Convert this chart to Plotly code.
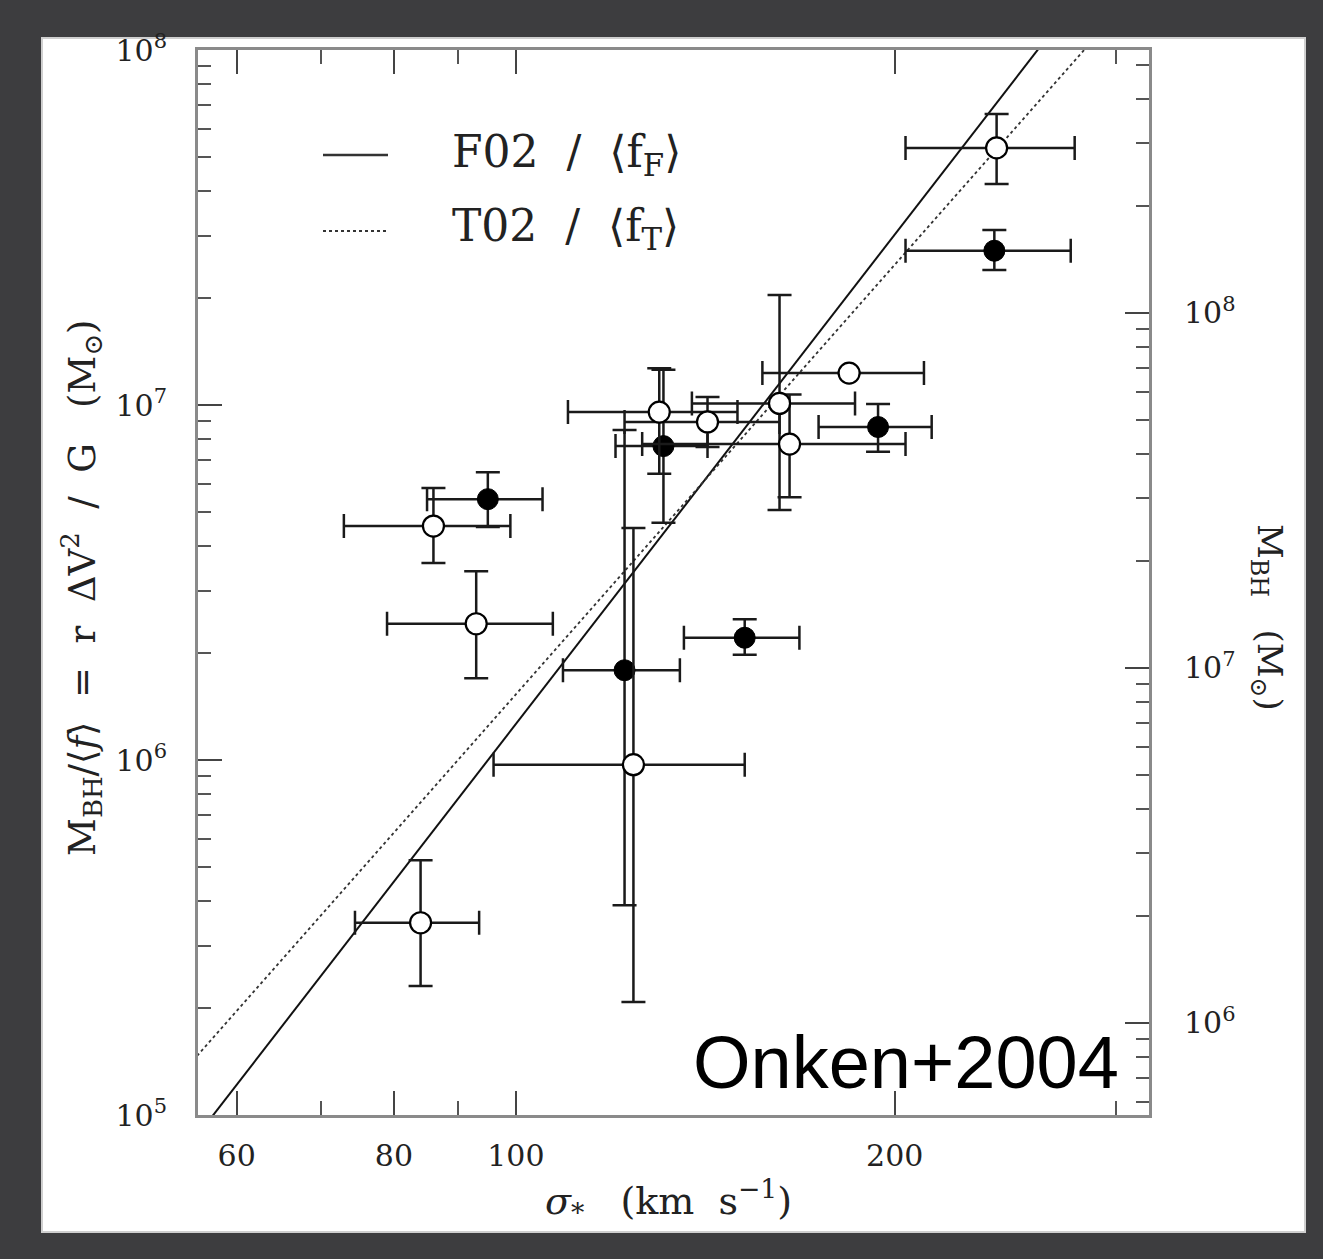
import numpy as np
import plotly.graph_objects as go

# ---------------- data ----------------
# open circles
sigma_open = [241, 184, 130, 142, 162, 165, 86, 93, 124, 84]
sigma_open_err = [37, 27, 20, 20, 24, 39, 13, 14, 28, 9.5]
mbh_open = [5.3e7, 1.23e7, 9.55e6, 8.96e6, 1.01e7, 7.76e6, 4.56e6, 2.42e6, 9.7e5, 3.48e5]
mbh_open_up = [1.3e7, 0.0, 3.15e6, 1.57e6, 1.03e7, 2.94e6, 1.28e6, 0.98e6, 3.53e6, 1.74e5]
mbh_open_lo = [1.11e7, 0.0, 3.15e6, 1.34e6, 5.04e6, 2.26e6, 0.97e6, 0.72e6, 7.62e5, 1.17e5]

# filled circles
sigma_fill = [240, 194, 131, 95, 152, 122]
sigma_fill_err = [36, 20, 11, 10, 16, 13]
mbh_fill = [2.72e7, 8.67e6, 7.66e6, 5.43e6, 2.21e6, 1.79e6]
mbh_fill_up = [3.9e6, 1.4e6, 4.9e6, 1.04e6, 0.28e6, 6.72e6]
mbh_fill_lo = [3.2e6, 1.29e6, 3.0e6, 0.9e6, 0.23e6, 1.40e6]

# relations: log M = norm + slope * log(sigma/200)
f02_norm, f02_slope = 7.48, 4.58
t02_norm, t02_slope = 7.395, 4.02
sigma_line = [55, 330]

# axes
x_major = [60, 80, 100, 200]
x_major_text = ["60", "80", "100", "200"]
x_minor = [70, 90, 300]
y_major = [1e5, 1e6, 1e7, 1e8]
y_major_text = ["10<sup>5</sup>", "10<sup>6</sup>", "10<sup>7</sup>", "10<sup>8</sup>"]
f_factor = 5.5  # right axis = left axis * <f>
y2_major = [1e6, 1e7, 1e8]
y2_major_text = ["10<sup>6</sup>", "10<sup>7</sup>", "10<sup>8</sup>"]

# ---------------- figure ----------------
W, H = 1323, 1259
ML, MR, MT, MB = 198, 174, 50, 144
PW, PH = W - ML - MR, H - MT - MB

def px_x(p):
    return (p - ML) / PW

def px_y(p):
    return (H - MB - p) / PH

SERIF = "DejaVu Serif"
ink = "#111111"
frame = "#8a8a8a"

fig = go.Figure()

sl = np.array(sigma_line, dtype=float)
fig.add_trace(go.Scatter(
    x=sl, y=10 ** (f02_norm + f02_slope * np.log10(sl / 200.0)),
    mode="lines", line=dict(color=ink, width=2), showlegend=False, hoverinfo="skip"))
fig.add_trace(go.Scatter(
    x=sl, y=10 ** (t02_norm + t02_slope * np.log10(sl / 200.0)),
    mode="lines", line=dict(color="#333333", width=1.8, dash="dot"), showlegend=False, hoverinfo="skip"))

err_style = dict(color="#1a1a1a", thickness=2.5, width=12)

fig.add_trace(go.Scatter(
    x=sigma_fill, y=mbh_fill, mode="markers",
    marker=dict(symbol="circle", size=21, color="black", line=dict(color="black", width=1)),
    error_x=dict(type="data", array=sigma_fill_err, symmetric=True, **err_style),
    error_y=dict(type="data", array=mbh_fill_up, arrayminus=mbh_fill_lo, symmetric=False, **err_style),
    showlegend=False, hoverinfo="skip"))

fig.add_trace(go.Scatter(
    x=sigma_open, y=mbh_open, mode="markers",
    marker=dict(symbol="circle", size=21, color="white", line=dict(color="black", width=2.2)),
    error_x=dict(type="data", array=sigma_open_err, symmetric=True, **err_style),
    error_y=dict(type="data", array=mbh_open_up, arrayminus=mbh_open_lo, symmetric=False, **err_style),
    showlegend=False, hoverinfo="skip"))

# invisible trace to anchor right axis
fig.add_trace(go.Scatter(x=[sigma_open[0]], y=[mbh_open[0] * f_factor], yaxis="y2",
                         mode="markers", marker=dict(opacity=0), showlegend=False, hoverinfo="skip"))

y_minor = [m * 10 ** e for e in (5, 6, 7) for m in range(2, 10)]
y2_minor = [m * 10 ** e for e in (5, 6, 7, 8) for m in range(2, 10)]

fig.update_layout(
    width=W, height=H,
    margin=dict(l=ML, r=MR, t=MT, b=MB),
    paper_bgcolor="#3d3d3f",
    plot_bgcolor="white",
    font=dict(family=SERIF, color=ink),
    xaxis=dict(
        type="log", range=[np.log10(55.9), np.log10(318.5)],
        tickmode="array", tickvals=x_major, ticktext=x_major_text,
        ticks="inside", ticklen=24, tickwidth=2, tickcolor="#444",
        minor=dict(tickmode="array", tickvals=x_minor, ticks="inside", ticklen=14, tickwidth=2, tickcolor="#555"),
        showline=True, linecolor=frame, linewidth=3, mirror="ticks",
        showgrid=False, zeroline=False,
        tickfont=dict(family=SERIF, size=30, color="#222"), ticklabelstandoff=12,
    ),
    yaxis=dict(
        type="log", range=[5, 8],
        tickmode="array", tickvals=y_major, ticktext=y_major_text,
        ticks="inside", ticklen=24, tickwidth=2, tickcolor="#444",
        minor=dict(tickmode="array", tickvals=y_minor, ticks="inside", ticklen=13, tickwidth=2, tickcolor="#555"),
        showline=True, linecolor=frame, linewidth=3, mirror=False,
        showgrid=False, zeroline=False,
        tickfont=dict(family=SERIF, size=30, color="#222"), ticklabelstandoff=22,
    ),
    yaxis2=dict(
        type="log", overlaying="y", side="right",
        range=[5 + np.log10(f_factor), 8 + np.log10(f_factor)],
        tickmode="array", tickvals=y2_major, ticktext=y2_major_text,
        ticks="inside", ticklen=24, tickwidth=2, tickcolor="#444",
        minor=dict(tickmode="array", tickvals=y2_minor, ticks="inside", ticklen=13, tickwidth=2, tickcolor="#555"),
        showline=True, linecolor=frame, linewidth=3,
        showgrid=False, zeroline=False,
        tickfont=dict(family=SERIF, size=30, color="#222"), ticklabelstandoff=26,
    ),
    shapes=[
        dict(type="rect", xref="paper", yref="paper", layer="below",
             x0=px_x(42), x1=px_x(1305), y0=px_y(1232), y1=px_y(38),
             fillcolor="white", line=dict(color="#cfcfcf", width=2)),
        dict(type="line", xref="paper", yref="paper",
             x0=px_x(323), x1=px_x(388), y0=px_y(155), y1=px_y(155),
             line=dict(color="#333", width=2.5)),
        dict(type="line", xref="paper", yref="paper",
             x0=px_x(323), x1=px_x(388), y0=px_y(231), y1=px_y(231),
             line=dict(color="#333", width=1.8, dash="dot")),
    ],
    annotations=[
        dict(xref="paper", yref="paper", x=px_x(450), y=px_y(155), xanchor="left", yanchor="middle",
             text="F02  /  ⟨f<sub>F</sub>⟩", showarrow=False, font=dict(family=SERIF, size=44, color="#222")),
        dict(xref="paper", yref="paper", x=px_x(450), y=px_y(229), xanchor="left", yanchor="middle",
             text="T02  /  ⟨f<sub>T</sub>⟩", showarrow=False, font=dict(family=SERIF, size=44, color="#222")),
        dict(xref="paper", yref="paper", x=px_x(668), y=px_y(1200), xanchor="center", yanchor="middle",
             text="<i>σ</i><sub>*</sub>   (km  s<sup>−1</sup>)", showarrow=False,
             font=dict(family=SERIF, size=38, color="#222")),
        dict(xref="paper", yref="paper", x=px_x(82), y=px_y(588), xanchor="center", yanchor="middle",
             textangle=-90,
             text="M<sub>BH</sub>/⟨<i>f</i>⟩  =  r  ΔV<sup>2</sup>  /  G   (M<sub>⊙</sub>)", showarrow=False,
             font=dict(family=SERIF, size=37, color="#222")),
        dict(xref="paper", yref="paper", x=px_x(1268), y=px_y(617), xanchor="center", yanchor="middle",
             textangle=90,
             text="M<sub>BH</sub>   (M<sub>⊙</sub>)", showarrow=False,
             font=dict(family=SERIF, size=34, color="#222")),
        dict(xref="paper", yref="paper", x=px_x(1121), y=px_y(1062), xanchor="right", yanchor="middle",
             text="Onken+2004", showarrow=False,
             font=dict(family="Liberation Sans", size=74, color="black")),
    ],
)

fig.write_html("out.html")
